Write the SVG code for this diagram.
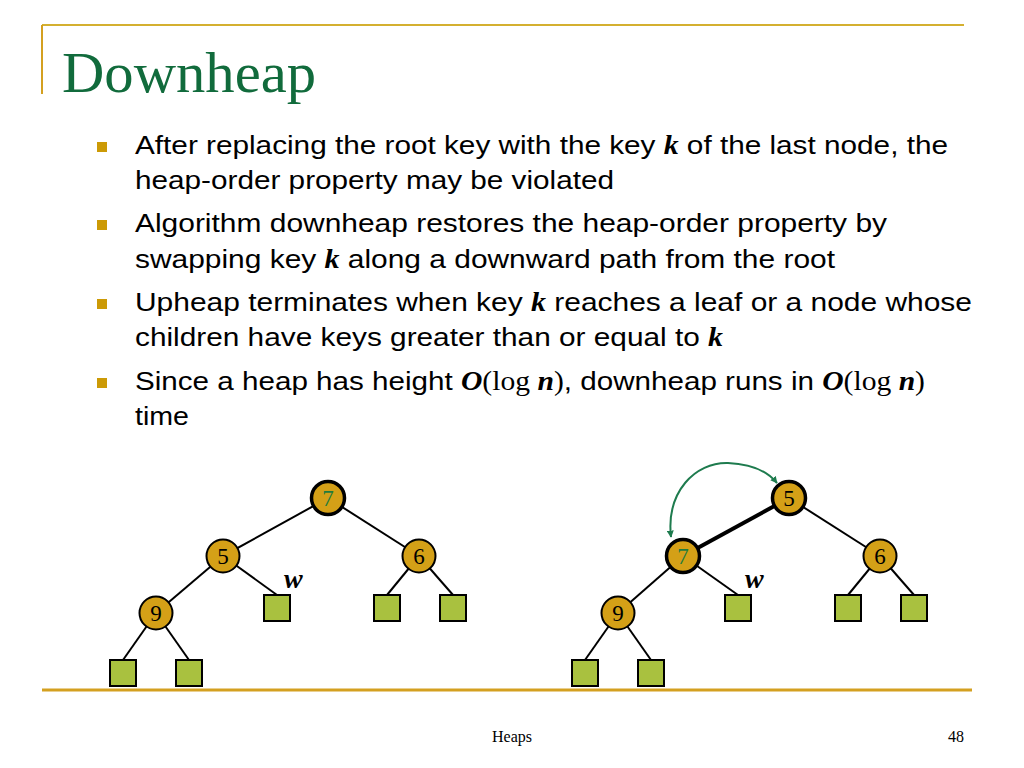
<svg xmlns="http://www.w3.org/2000/svg" width="1024" height="768" viewBox="0 0 1024 768">
<style>
.body{font-family:"Liberation Sans",Arial,sans-serif;font-size:26.5px;fill:#000}
.m{font-family:"Liberation Serif","Times New Roman",serif;font-weight:bold;font-style:italic}
.r{font-family:"Liberation Serif","Times New Roman",serif}
.bul{fill:#CC9A06}
.edge{stroke:#000;stroke-width:2;fill:none}
.thick{stroke:#000;stroke-width:4;fill:none}
.int{fill:#D4A017;stroke:#000;stroke-width:2}
.intb{fill:#D4A017;stroke:#000;stroke-width:3.5}
.leaf{fill:#A9C13F;stroke:#000;stroke-width:2}
.lbl{font-family:"Liberation Serif","Times New Roman",serif;font-size:23px;text-anchor:middle;fill:#000}
.g{fill:#1E7B3E}
.w{font-family:"Liberation Serif","Times New Roman",serif;font-size:28px;font-weight:bold;font-style:italic;fill:#000}
</style>
<defs>
<marker id="ah" viewBox="0 0 10 10" refX="9" refY="5" markerWidth="7" markerHeight="7" orient="auto-start-reverse" markerUnits="userSpaceOnUse">
<path d="M0,0 L10,5 L0,10 z" fill="#1E7B4E"/>
</marker>
</defs>
<rect width="1024" height="768" fill="#fff"/>
<g id="frame">
<line x1="42" y1="25" x2="964" y2="25" stroke="#D4B030" stroke-width="2"/>
<line x1="42" y1="25" x2="42" y2="94" stroke="#D4A020" stroke-width="2"/>
<line x1="42" y1="690" x2="972" y2="690" stroke="#D4A020" stroke-width="3"/>
</g>
<text x="62" y="92" font-family="Liberation Serif,'Times New Roman',serif" font-size="57" fill="#116B3C" textLength="254" lengthAdjust="spacingAndGlyphs">Downheap</text>
<g id="bullets">
<rect class="bul" x="97" y="142" width="10" height="10"/>
<rect class="bul" x="97" y="220" width="10" height="10"/>
<rect class="bul" x="97" y="299" width="10" height="10"/>
<rect class="bul" x="97" y="378" width="10" height="10"/>
<text class="body" x="135" y="154" textLength="813" lengthAdjust="spacingAndGlyphs">After replacing the root key with the key <tspan class="m">k</tspan> of the last node, the</text>
<text class="body" x="135" y="189" textLength="479" lengthAdjust="spacingAndGlyphs">heap-order property may be violated</text>
<text class="body" x="135" y="232" textLength="752" lengthAdjust="spacingAndGlyphs">Algorithm downheap restores the heap-order property by</text>
<text class="body" x="135" y="268" textLength="700" lengthAdjust="spacingAndGlyphs">swapping key <tspan class="m">k</tspan> along a downward path from the root</text>
<text class="body" x="135" y="311" textLength="837" lengthAdjust="spacingAndGlyphs">Upheap terminates when key <tspan class="m">k</tspan> reaches a leaf or a node whose</text>
<text class="body" x="135" y="346" textLength="588" lengthAdjust="spacingAndGlyphs">children have keys greater than or equal to <tspan class="m">k</tspan></text>
<text class="body" x="135" y="390" textLength="790" lengthAdjust="spacingAndGlyphs">Since a heap has height <tspan class="m">O</tspan><tspan class="r">(log </tspan><tspan class="m">n</tspan><tspan class="r">)</tspan>, downheap runs in <tspan class="m">O</tspan><tspan class="r">(log </tspan><tspan class="m">n</tspan><tspan class="r">)</tspan></text>
<text class="body" x="135" y="425" textLength="54" lengthAdjust="spacingAndGlyphs">time</text>
</g>
<g id="connectors">
<line class="edge" x1="328" y1="498" x2="223" y2="556"/>
<line class="edge" x1="328" y1="498" x2="419" y2="556"/>
<line class="edge" x1="223" y1="556" x2="156" y2="613"/>
<line class="edge" x1="223" y1="556" x2="277" y2="595"/>
<line class="edge" x1="419" y1="556" x2="387" y2="595"/>
<line class="edge" x1="419" y1="556" x2="453" y2="595"/>
<line class="edge" x1="156" y1="613" x2="123" y2="660"/>
<line class="edge" x1="156" y1="613" x2="189" y2="660"/>
<line class="thick" x1="789" y1="498" x2="683" y2="556"/>
<line class="edge" x1="789" y1="498" x2="880" y2="556"/>
<line class="edge" x1="683" y1="556" x2="618" y2="613"/>
<line class="edge" x1="683" y1="556" x2="738" y2="595"/>
<line class="edge" x1="880" y1="556" x2="848" y2="595"/>
<line class="edge" x1="880" y1="556" x2="914" y2="595"/>
<line class="edge" x1="618" y1="613" x2="585" y2="660"/>
<line class="edge" x1="618" y1="613" x2="651" y2="660"/>
<path d="M671,537 C666,492 695,462 728,463 C752,464 768,472 777,483" fill="none" stroke="#1E7B4E" stroke-width="2" marker-start="url(#ah)" marker-end="url(#ah)"/>
</g>
<g id="tree1">
<g id="t1n7"><circle class="intb" cx="328" cy="498" r="16.5"/><text class="lbl g" x="328" y="506">7</text></g>
<g id="t1n5"><circle class="int" cx="223" cy="556" r="16.5"/><text class="lbl" x="223" y="564">5</text></g>
<g id="t1n6"><circle class="int" cx="419" cy="556" r="16.5"/><text class="lbl" x="419" y="564">6</text></g>
<g id="t1n9"><circle class="int" cx="156" cy="613" r="16.5"/><text class="lbl" x="156" y="621">9</text></g>
<g id="t1w"><rect class="leaf" x="264" y="595" width="26" height="26"/><text class="w" x="284" y="588">w</text></g>
<g id="t1l1"><rect class="leaf" x="374" y="595" width="26" height="26"/></g>
<g id="t1l2"><rect class="leaf" x="440" y="595" width="26" height="26"/></g>
<g id="t1l3"><rect class="leaf" x="110" y="660" width="26" height="26"/></g>
<g id="t1l4"><rect class="leaf" x="176" y="660" width="26" height="26"/></g>
</g>
<g id="tree2">
<g id="t2n5"><circle class="intb" cx="789" cy="498" r="16.5"/><text class="lbl" x="789" y="506">5</text></g>
<g id="t2n7"><circle class="intb" cx="683" cy="556" r="16.5"/><text class="lbl g" x="683" y="564">7</text></g>
<g id="t2n6"><circle class="int" cx="880" cy="556" r="16.5"/><text class="lbl" x="880" y="564">6</text></g>
<g id="t2n9"><circle class="int" cx="618" cy="613" r="16.5"/><text class="lbl" x="618" y="621">9</text></g>
<g id="t2w"><rect class="leaf" x="725" y="595" width="26" height="26"/><text class="w" x="745" y="588">w</text></g>
<g id="t2l1"><rect class="leaf" x="835" y="595" width="26" height="26"/></g>
<g id="t2l2"><rect class="leaf" x="901" y="595" width="26" height="26"/></g>
<g id="t2l3"><rect class="leaf" x="572" y="660" width="26" height="26"/></g>
<g id="t2l4"><rect class="leaf" x="638" y="660" width="26" height="26"/></g>
</g>
<text x="512" y="742" font-family="Liberation Serif,'Times New Roman',serif" font-size="16" text-anchor="middle" fill="#000">Heaps</text>
<text x="964" y="742" font-family="Liberation Serif,'Times New Roman',serif" font-size="16" text-anchor="end" fill="#000">48</text>
</svg>
